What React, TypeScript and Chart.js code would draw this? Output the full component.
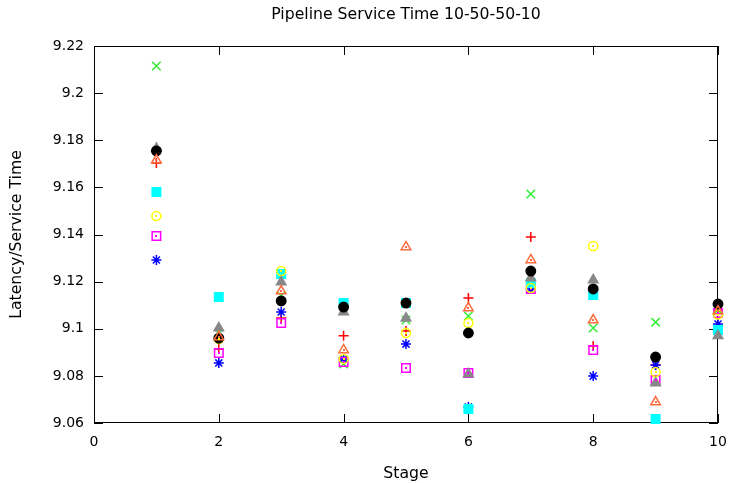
import React, { useEffect, useRef } from "react";
import { Chart, registerables } from "chart.js";

Chart.register(...registerables);

const stages = [1, 2, 3, 4, 5, 6, 7, 8, 9, 10];
const xTicks = [0, 2, 4, 6, 8, 10];
const yTicks = [9.06, 9.08, 9.1, 9.12, 9.14, 9.16, 9.18, 9.2, 9.22];
const chartTitle = "Pipeline Service Time 10-50-50-10";

const redPlus = [9.1703, 9.0914, 9.1046, 9.097, 9.099, 9.113, 9.1389, 9.0927, 9.0846, 9.108];
const greenX = [9.2115, 9.098, 9.114, 9.085, 9.1037, 9.1054, 9.1572, 9.1003, 9.1028, 9.108];
const blueStar = [9.1292, 9.0855, 9.1071, 9.0872, 9.0935, 9.0668, 9.1169, 9.0799, 9.0846, 9.102];
const magentaSquare = [9.1394, 9.0897, 9.1024, 9.0859, 9.0833, 9.0812, 9.1169, 9.091, 9.0782, 9.1067];
const cyanSquare = [9.158, 9.1135, 9.1232, 9.1109, 9.1109, 9.0659, 9.1194, 9.1143, 9.0617, 9.0995];
const yellowCircle = [9.1478, 9.0956, 9.1245, 9.0872, 9.0982, 9.1024, 9.1173, 9.1351, 9.0816, 9.106];
const blackCircle = [9.1755, 9.096, 9.1118, 9.1092, 9.1109, 9.0982, 9.1245, 9.1169, 9.088, 9.1105];
const orangeTriangle = [9.1716, 9.0965, 9.116, 9.091, 9.1347, 9.1088, 9.1292, 9.1037, 9.0689, 9.1075];
const grayTriangle = [9.1765, 9.1003, 9.1198, 9.1071, 9.1045, 9.0808, 9.1215, 9.1207, 9.077, 9.097];

const FONT = "'DejaVu Sans', sans-serif";

const framePlugin = {
  id: "gnuplotFrame",
  beforeDatasetsDraw(chart: any) {
    const { ctx, chartArea: a, scales } = chart;
    ctx.save();
    ctx.strokeStyle = "#000";
    ctx.lineWidth = 1;
    ctx.strokeRect(a.left + 0.5, a.top + 0.5, a.right - a.left - 1, a.bottom - a.top - 1);
    const len = 9;
    ctx.beginPath();
    xTicks.forEach((v) => {
      const px = Math.round(scales.x.getPixelForValue(v)) + 0.5;
      ctx.moveTo(px, a.bottom);
      ctx.lineTo(px, a.bottom - len);
      ctx.moveTo(px, a.top);
      ctx.lineTo(px, a.top + len);
    });
    yTicks.forEach((v) => {
      const py = Math.round(scales.y.getPixelForValue(v)) + 0.5;
      ctx.moveTo(a.left, py);
      ctx.lineTo(a.left + len, py);
      ctx.moveTo(a.right, py);
      ctx.lineTo(a.right - len, py);
    });
    ctx.stroke();
    ctx.fillStyle = "#000";
    ctx.font = `15.7px ${FONT}`;
    ctx.textAlign = "center";
    ctx.textBaseline = "middle";
    ctx.fillText(chartTitle, (a.left + a.right) / 2, 15);
    ctx.restore();
  },
  afterDatasetsDraw(chart: any) {
    // gnuplot open markers carry a small centre dot
    const { ctx } = chart;
    ctx.save();
    chart.data.datasets.forEach((ds: any, i: number) => {
      if (!ds.centerDot) return;
      const meta = chart.getDatasetMeta(i);
      ctx.fillStyle = ds.pointBorderColor;
      meta.data.forEach((el: any) => {
        ctx.fillRect(Math.round(el.x) - 1, Math.round(el.y) - 1, 2, 2);
      });
    });
    ctx.restore();
  },
};

function mk(label: string, values: number[], style: string, color: string, radius: number, filled: boolean, order: number, centerDot = false) {
  return {
    label,
    data: stages.map((s, i) => ({ x: s, y: values[i] })),
    pointStyle: style,
    pointRadius: radius,
    pointHoverRadius: radius,
    pointBorderColor: color,
    pointBackgroundColor: filled ? color : "rgba(0,0,0,0)",
    pointBorderWidth: 1.5,
    borderColor: color,
    backgroundColor: filled ? color : "rgba(0,0,0,0)",
    showLine: false,
    clip: false as any,
    order,
    centerDot,
  };
}

export default function App() {
  const ref = useRef<HTMLCanvasElement>(null);
  useEffect(() => {
    if (!ref.current) return;
    const chart = new Chart(ref.current, {
      type: "scatter",
      data: {
        datasets: [
          mk("red", redPlus, "cross", "#ff0000", 5, false, 9),
          mk("green", greenX, "crossRot", "#33ee33", 6, false, 8),
          mk("blue", blueStar, "star", "#0000ff", 5, false, 7),
          mk("magenta", magentaSquare, "rect", "#ff00ff", 6, false, 6, true),
          mk("cyan", cyanSquare, "rect", "#00ffff", 6, true, 5),
          mk("yellow", yellowCircle, "circle", "#ffff00", 4.5, false, 4, true),
          mk("black", blackCircle, "circle", "#000000", 4.7, true, 2),
          mk("orange", orangeTriangle, "triangle", "#ff6a3d", 5.5, false, 1, true),
          mk("gray", grayTriangle, "triangle", "#888888", 5.5, true, 3),
        ] as any,
      },
      options: {
        animation: false,
        responsive: false,
        events: [],
        layout: { padding: { left: 0, right: 12, top: 46, bottom: 0 } },
        plugins: {
          legend: { display: false },
          tooltip: { enabled: false },
          title: { display: false },
        },
        scales: {
          x: {
            type: "linear",
            min: 0,
            max: 10,
            grid: { display: false, drawTicks: false },
            border: { display: false },
            afterBuildTicks: (s: any) => {
              s.ticks = xTicks.map((v) => ({ value: v }));
            },
            afterFit: (s: any) => {
              s.height = 60;
              s.paddingLeft = 0;
              s.paddingRight = 0;
            },
            ticks: {
              color: "#000",
              padding: 11,
              font: { family: FONT, size: 14 },
              callback: (v: any) => String(v),
            },
            title: {
              display: true,
              text: "Stage",
              color: "#000",
              font: { family: FONT, size: 15.7 },
              padding: { top: 0, bottom: 0 },
            },
          },
          y: {
            type: "linear",
            min: 9.06,
            max: 9.22,
            grid: { display: false, drawTicks: false },
            border: { display: false },
            afterBuildTicks: (s: any) => {
              s.ticks = yTicks.map((v) => ({ value: v }));
            },
            afterFit: (s: any) => {
              s.width = 94;
              s.paddingTop = 0;
              s.paddingBottom = 0;
            },
            ticks: {
              color: "#000",
              padding: 10,
              font: { family: FONT, size: 14 },
              callback: (v: any) => String(parseFloat(Number(v).toFixed(2))),
            },
            title: {
              display: true,
              text: "Latency/Service Time",
              color: "#000",
              font: { family: FONT, size: 15.7 },
              padding: { top: 8, bottom: 0 },
            },
          },
        },
      } as any,
      plugins: [framePlugin],
    });
    return () => chart.destroy();
  }, []);
  return (
    <div style={{ position: "absolute", left: 0, top: 0, width: 730, height: 483, background: "#fff" }}>
      <canvas ref={ref} width={730} height={483} style={{ display: "block" }} />
    </div>
  );
}
